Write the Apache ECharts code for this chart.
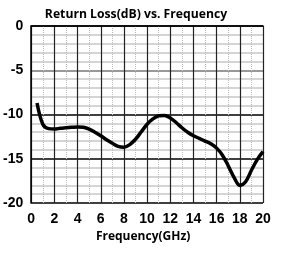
<!DOCTYPE html>
<html>
<head>
<meta charset="utf-8">
<script src="https://cdn.jsdelivr.net/npm/echarts@6/dist/echarts.min.js"></script>
<style>
html,body{margin:0;padding:0;background:#fff;}
#main{width:281px;height:260px;}
</style>
</head>
<body>
<div id="main"></div>
<script>
// frequency (GHz) and return loss (dB), every 0.5 GHz
var freqs = [0.5, 1.0, 1.5, 2.0, 2.5, 3.0, 3.5, 4.0, 4.5, 5.0, 5.5, 6.0, 6.5, 7.0, 7.5, 8.0, 8.5, 9.0, 9.5, 10.0,
             10.5, 11.0, 11.5, 12.0, 12.5, 13.0, 13.5, 14.0, 14.5, 15.0, 15.5, 16.0, 16.5, 17.0, 17.5, 18.0, 18.5, 19.0, 19.5, 20.0];
var loss  = [-8.7, -11.1, -11.6, -11.65, -11.55, -11.5, -11.45, -11.4, -11.45, -11.65, -12.0, -12.4, -12.85, -13.25, -13.6, -13.7, -13.4, -12.8, -11.95, -11.1,
             -10.5, -10.15, -10.1, -10.4, -10.9, -11.5, -12.0, -12.4, -12.7, -13.0, -13.3, -13.8, -14.6, -15.8, -17.1, -18.0, -17.6, -16.3, -15.1, -14.2];

var xTicks = [0, 2, 4, 6, 8, 10, 12, 14, 16, 18, 20];
var yTicks = [-20, -15, -10, -5, 0];

var pts = [];
for (var i = 0; i < freqs.length; i++) {
	pts.push([freqs[i], loss[i]]);
}

var myChart = echarts.init(document.getElementById('main'));
var tickFont = { fontFamily: 'Liberation Sans', fontWeight: 'bold', fontSize: 14, color: '#000' };
var option = {
	animation: false,
	title: {
		text: 'Return Loss(dB) vs. Frequency',
		left: 131, top: 4, textAlign: 'center',
		textStyle: { fontFamily: 'Open Sans', fontWeight: 'bold', fontSize: 12.2, color: '#000' }
	},
	grid: { left: 31, right: 18, top: 26, bottom: 57, show: false },
	xAxis: {
		type: 'value',
		min: xTicks[0], max: xTicks[xTicks.length - 1], interval: 2,
		name: 'Frequency(GHz)', nameLocation: 'middle', nameGap: 26,
		nameTextStyle: { fontFamily: 'Open Sans', fontWeight: 'bold', fontSize: 12, color: '#000', padding: [0, 8, 0, 0] },
		axisLine: { lineStyle: { color: '#000', width: 1.5 } },
		axisTick: { show: false },
		axisLabel: Object.assign({ margin: 9 }, tickFont),
		splitLine: { show: true, lineStyle: { color: '#222', width: 1.2 } },
		minorTick: { show: false, splitNumber: 2 },
		minorSplitLine: { show: true, lineStyle: { color: '#bbb', type: 'dotted', width: 1 } }
	},
	yAxis: {
		type: 'value',
		min: yTicks[0], max: yTicks[yTicks.length - 1], interval: 5,
		axisLine: { show: true, lineStyle: { color: '#000', width: 1.5 } },
		axisTick: { show: false },
		axisLabel: Object.assign({ margin: 8 }, tickFont),
		splitLine: { show: true, lineStyle: { color: ['#000', '#000', '#000', '#777', '#000'], width: 1.5 } },
		minorTick: { show: false, splitNumber: 5 },
		minorSplitLine: { show: true, lineStyle: { color: '#c8c8c8', width: 1.5 } }
	},
	series: [{
		type: 'line',
		data: pts,
		smooth: 0.35,
		showSymbol: false,
		lineStyle: { color: '#000', width: 3.5 }
	}]
};
myChart.setOption(option);
</script>
</body>
</html>
